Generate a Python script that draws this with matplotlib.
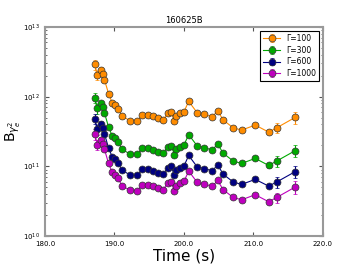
import numpy as np
import matplotlib
matplotlib.use('Agg')
from matplotlib import pyplot as plt

# time (s) of each point
t = [187.15, 187.55, 188.13, 188.32, 188.56, 189.14, 189.67, 190.03, 190.47, 191.12,
     192.23, 193.31, 194.00, 194.82, 195.61, 196.33, 197.02, 197.65, 198.17, 198.63,
     198.85, 199.42, 200.00, 200.68, 201.91, 202.92, 204.07, 204.85, 205.65, 207.09,
     208.30, 210.26, 212.19, 213.34, 216.02]

b_100 = [2.91e12, 2.04e12, 2.41e12, 2.09e12, 1.75e12, 1.11e12, 8.2e11, 7.57e11, 6.75e11, 5.26e11,
         4.51e11, 4.49e11, 5.44e11, 5.44e11, 5.23e11, 4.88e11, 4.61e11, 5.76e11, 5.97e11, 4.42e11,
         5.26e11, 5.76e11, 6.07e11, 8.56e11, 5.87e11, 5.57e11, 5.14e11, 6.27e11, 4.61e11, 3.57e11,
         3.31e11, 3.91e11, 3.10e11, 3.57e11, 5.05e11]
b_300 = [9.7e11, 6.8e11, 8.0e11, 7.0e11, 5.83e11, 3.7e11, 2.73e11, 2.52e11, 2.25e11, 1.75e11,
         1.50e11, 1.50e11, 1.81e11, 1.81e11, 1.74e11, 1.63e11, 1.54e11, 1.92e11, 1.99e11, 1.47e11,
         1.75e11, 1.92e11, 2.02e11, 2.85e11, 1.96e11, 1.86e11, 1.71e11, 2.09e11, 1.54e11, 1.19e11,
         1.10e11, 1.30e11, 1.03e11, 1.19e11, 1.68e11]
b_600 = [4.85e11, 3.4e11, 4.0e11, 3.5e11, 2.92e11, 1.85e11, 1.37e11, 1.26e11, 1.13e11, 8.8e10,
         7.5e10, 7.5e10, 9.1e10, 9.1e10, 8.7e10, 8.1e10, 7.7e10, 9.6e10, 9.95e10, 7.4e10,
         8.8e10, 9.6e10, 1.01e11, 1.43e11, 9.8e10, 9.3e10, 8.6e10, 1.05e11, 7.7e10, 5.95e10,
         5.5e10, 6.5e10, 5.2e10, 5.95e10, 8.4e10]
b_1000 = [2.91e11, 2.04e11, 2.41e11, 2.09e11, 1.75e11, 1.11e11, 8.2e10, 7.57e10, 6.75e10, 5.26e10,
          4.51e10, 4.49e10, 5.44e10, 5.44e10, 5.23e10, 4.88e10, 4.61e10, 5.76e10, 5.97e10, 4.42e10,
          5.26e10, 5.76e10, 6.07e10, 8.56e10, 5.87e10, 5.57e10, 5.14e10, 6.27e10, 4.61e10, 3.57e10,
          3.31e10, 3.91e10, 3.10e10, 3.57e10, 5.05e10]

# relative error of each point (same for every Gamma)
rel_err = [0.17, 0.16, 0.10, 0.06, 0.05, 0.04, 0.04, 0.04, 0.04, 0.04,
           0.04, 0.04, 0.04, 0.04, 0.04, 0.04, 0.04, 0.04, 0.04, 0.04,
           0.04, 0.04, 0.04, 0.04, 0.04, 0.04, 0.04, 0.04, 0.04, 0.04,
           0.04, 0.04, 0.07, 0.17, 0.20]

labels = ['\u0393=100', '\u0393=300', '\u0393=600', '\u0393=1000']
colors = ['darkorange', '#00aa00', 'navy', 'm']

fig = plt.figure(figsize=(3.6, 2.7), dpi=100)
ax = fig.add_axes([0.125, 0.126, 0.772, 0.774])

for vals, lab, col in zip([b_100, b_300, b_600, b_1000], labels, colors):
    vals = np.array(vals)
    ax.errorbar(t, vals, yerr=vals * np.array(rel_err), fmt='o-', color=col,
                mfc=col, mec='#333333', mew=0.5, ms=5, lw=0.8,
                elinewidth=0.8, ecolor=col, capsize=1.5, label=lab)

ax.set_yscale('log')
ax.set_xlim(180, 220)
ax.set_ylim(1e10, 1e13)
ax.set_xticks([180, 190, 200, 210, 220])
ax.set_xticklabels(['180.0', '190.0', '200.0', '210.0', '220.0'])
ax.tick_params(which='both', direction='in', top=True, right=True, labelsize=5, color='#555555')
ax.tick_params(which='major', length=3)
ax.tick_params(which='minor', length=1.5)
for s in ax.spines.values():
    s.set_color('#999999')
    s.set_linewidth(1.5)

ax.set_title('160625B', fontsize=6, pad=3)
ax.set_xlabel('Time (s)', fontsize=11, labelpad=1)
ax.set_ylabel(r'B$_{\gamma_e^2}$', fontsize=10, labelpad=0)

leg = ax.legend(loc='upper right', fontsize=5.5, numpoints=1, fancybox=False,
                framealpha=1, borderpad=0.4, labelspacing=0.35, handlelength=2.2)
leg.get_frame().set_edgecolor('black')
leg.get_frame().set_linewidth(0.8)

plt.savefig('out.png', dpi=100)
